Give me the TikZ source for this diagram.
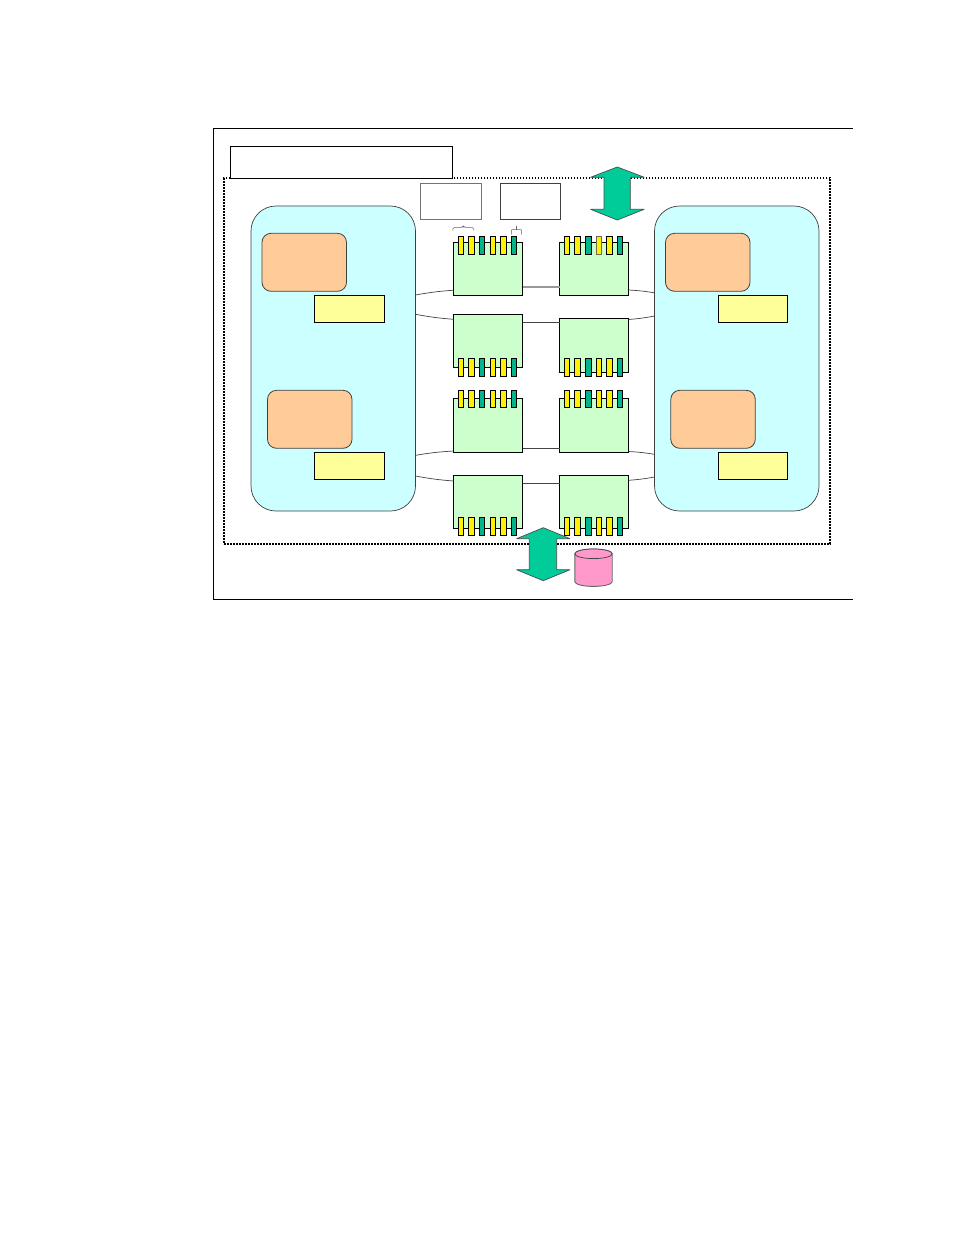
\documentclass[tikz,border=0pt]{standalone}
\definecolor{cyanfill}{HTML}{CCFFFF}
\definecolor{orangefill}{HTML}{FFCC99}
\definecolor{paleyellow}{HTML}{FFFF99}
\definecolor{palegreen}{HTML}{CCFFCC}
\definecolor{teal1}{HTML}{00B48C}
\definecolor{arrowgreen}{HTML}{00CC99}
\definecolor{cylpink}{HTML}{FF99CC}
\definecolor{gline}{HTML}{444444}
\tikzset{
  px/.style={x=1pt,y=-1pt},
  boxat/.style args={#1/#2}{minimum width=#1pt,minimum height=#2pt,inner sep=0pt,outer sep=0pt,anchor=north west},
  hostbox/.style={draw=black!75,line width=.7pt,fill=cyanfill,rounded corners=25pt},
  cpubox/.style={draw=black!75,line width=.8pt,fill=orangefill,rounded corners=9pt},
  membox/.style={draw=black,line width=.9pt,fill=paleyellow},
  swbox/.style={draw=black,line width=.9pt,fill=palegreen},
  yport/.style={draw=black,line width=.8pt,fill=yellow},
  tport/.style={draw=black,line width=.8pt,fill=teal1},
  link/.style={draw=gline,line width=.7pt},
  bigarrow/.style={draw=black!70,line width=.7pt,fill=arrowgreen,line join=bevel},
  brace/.style={draw=black!60,line width=.5pt,rounded corners=1.5pt}
}
\begin{document}
\begin{tikzpicture}[px]
\useasboundingbox (0,0) rectangle (954,1235);
\fill[white] (0,0) rectangle (954,1235);
% outer frame, open on the right
\coordinate (fa) at (853,128.5);
\coordinate (fb) at (213.5,128.5);
\coordinate (fc) at (213.5,599.5);
\coordinate (fd) at (853,599.5);
\draw[black,line width=.9pt] (fa) -- (fb) -- (fc) -- (fd);
% dotted enclosure
\node[boxat=606/366,draw=black,line width=1.9pt,dash pattern=on 1.6pt off 1.4pt] (encl) at (224.3,178) {};
% title box
\node[boxat=222/32.5,draw=black,line width=.9pt,fill=white] (title) at (230.5,146) {};
% small boxes
\node[boxat=61/36.5,draw=black!55,line width=1pt] (labA) at (420.7,183) {};
\node[boxat=60/36.5,draw=black!75,line width=.8pt] (labB) at (500.5,183) {};
% hosts
\node[boxat=164.5/305,hostbox] (hostL) at (251,206) {};
\node[boxat=164.5/305,hostbox] (hostR) at (654.5,206) {};
% CPUs
\node[boxat=84.5/58,cpubox] (cpuLa) at (262,233.3) {};
\node[boxat=84.5/58,cpubox] (cpuLb) at (267.5,390.3) {};
\node[boxat=84.5/58,cpubox] (cpuRa) at (665.5,233.3) {};
\node[boxat=84.5/58,cpubox] (cpuRb) at (670.8,390.3) {};
% memory
\node[boxat=70.3/27,membox] (memLa) at (314.5,295.5) {};
\node[boxat=70.3/27,membox] (memLb) at (314.5,452.5) {};
\node[boxat=69.3/27,membox] (memRa) at (718.3,295.5) {};
\node[boxat=69.3/27,membox] (memRb) at (718.3,452.5) {};
% switches
\node[boxat=69/53.3,swbox] (s1) at (453.5,242.2) {};
\node[boxat=69/53.3,swbox] (s2) at (559.5,242.2) {};
\node[boxat=69/53.2,swbox] (s3) at (453.5,314.4) {};
\node[boxat=69/54,swbox] (s4) at (559.5,318.3) {};
\node[boxat=69/54,swbox] (s5) at (453.5,398.4) {};
\node[boxat=69/54,swbox] (s6) at (559.5,398.4) {};
\node[boxat=69/53,swbox] (s7) at (453.5,475.4) {};
\node[boxat=69/53,swbox] (s8) at (559.5,475.4) {};
% ports
\foreach \xa/\ya/\h in {461/236.3/18.4, 461/358.4/18, 461/390.4/17, 461/517.4/18}{
  \foreach \dx/\st/\w in {0/yport/5.4, 10.4/yport/6, 21/tport/5.2, 32/yport/5.2, 42.4/yport/6, 53/tport/5.2}{
    \path[\st] (\xa+\dx-\w/2,\ya) rectangle (\xa+\dx+\w/2,\ya+\h);
  }
}
\foreach \xa/\ya/\h in {567/236.3/18.4, 567/358.4/18, 567/390.4/17, 567/517.4/18}{
  \foreach \dx/\st/\w in {0/yport/5.2, 10.6/yport/5.6, 21.3/tport/6, 32/yport/5.2, 42.3/yport/6, 53/tport/5.2}{
    \path[\st] (\xa+\dx-\w/2,\ya) rectangle (\xa+\dx+\w/2,\ya+\h);
  }
}
% the washed port on the upper right switch
\path[draw=black!50!yellow!70!black,line width=.9pt,fill=yellow] (596.4,236) rectangle (601.6,254.4);
% links between switches
\draw[draw=black!40,line width=1.2pt] (s1.east |- 0,287) -- (s2.west |- 0,287);
\draw[link] (s3.east |- 0,322.5) -- (s4.west |- 0,322.5);
\draw[link] (s5.east |- 0,448) -- (s6.west |- 0,448);
\draw[link] (s7.east |- 0,483.5) -- (s8.west |- 0,483.5);
% links to the hosts
\draw[link] (hostL.east |- 0,295) to[bend left=3] (s1.west |- 0,290.2);
\draw[link] (hostL.east |- 0,314.3) to[bend right=3] (s3.west |- 0,319.3);
\draw[link] (hostL.east |- 0,455.3) to[bend left=3] (s5.west |- 0,451);
\draw[link] (hostL.east |- 0,476) to[bend right=3] (s7.west |- 0,481);
\draw[link] (s2.east |- 0,290) to[bend left=3] (hostR.west |- 0,292.8);
\draw[link] (s4.east |- 0,319.5) to[bend right=3] (hostR.west |- 0,316);
\draw[link] (s6.east |- 0,451.5) to[bend left=3] (hostR.west |- 0,454.3);
\draw[link] (s8.east |- 0,480.3) to[bend right=3] (hostR.west |- 0,477);
% big arrows
\path[bigarrow] (617.3,167) -- (644.3,177.3) -- (630.3,177.3) -- (630.3,209.3) -- (644.3,209.3) -- (617.3,220) -- (590.5,209.3) -- (604,209.3) -- (604,177.3) -- (590.5,177.3) -- cycle;
\path[bigarrow] (543.3,527.7) -- (570,538.7) -- (556.7,538.7) -- (556.7,569.7) -- (570,569.7) -- (543.3,580.7) -- (516.5,569.7) -- (529.3,569.7) -- (529.3,538.7) -- (516.5,538.7) -- cycle;
% cylinder
\path[draw=black!60,line width=.9pt,fill=cylpink] (574.8,553.8) -- (574.8,581.6) arc[x radius=18.7,y radius=4.8,start angle=180,end angle=0] -- (612.2,553.8) arc[x radius=18.7,y radius=4.8,start angle=0,end angle=-180];
\draw[black!75,line width=.7pt,fill=cylpink] (593.5,553.8) ellipse[x radius=18.7,y radius=4.8];
% braces
\draw[brace] (452.8,230.5) -- (452.8,227.5) -- (462.5,227.5) -- (463.3,225.8) -- (464.1,227.5) -- (473.8,227.5) -- (473.8,230.5);
\draw[brace,rounded corners=0.8pt] (511.3,234.5) -- (511.3,229.6) -- (521.7,229.6) -- (521.7,234.5);
\draw[brace] (516.3,229.6) -- (516.3,225.5);
\end{tikzpicture}
\end{document}
